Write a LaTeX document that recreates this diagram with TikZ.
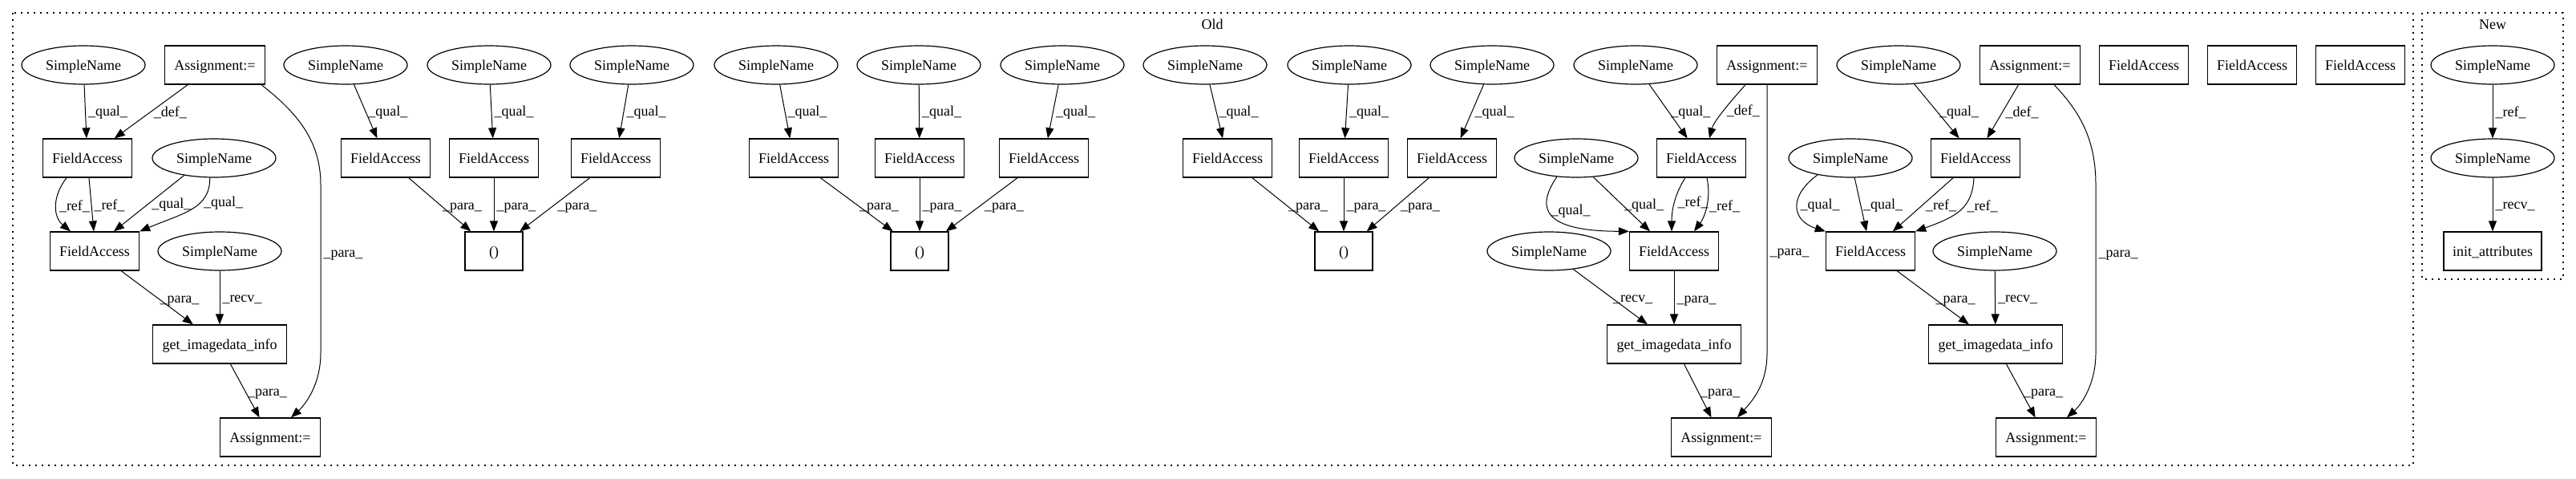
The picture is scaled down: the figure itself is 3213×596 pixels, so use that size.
\documentclass[tikz,border=0pt]{standalone}
\usepackage{fontspec}
\setmainfont{Liberation Serif}
\usetikzlibrary{arrows.meta,shapes.geometric,calc}
\begin{document}
\begin{tikzpicture}[x=0.5pt,y=-0.5pt,
  every node/.style={font=\fontsize{9pt}{10pt}\selectfont, text height=7.5pt, text depth=1.5pt},
  sn/.style={draw, ellipse, line width=0.6pt, minimum width=77pt, minimum height=24pt, inner sep=0pt},
  bx/.style={draw, rectangle, line width=0.65pt, minimum height=24pt, inner sep=0pt},
  fa/.style={bx, minimum width=55.5pt},
  asg/.style={bx, minimum width=62.5pt},
  gi/.style={bx, minimum width=83.5pt},
  pr/.style={bx, minimum width=36pt},
  ia/.style={bx, minimum width=61pt},
  edge/.style={draw, line width=0.5pt, -{Triangle[length=6.5pt,width=5pt]}},
  lbl/.style={anchor=west, inner sep=1.5pt},
  clus/.style={draw, line width=0.7pt, dash pattern=on 0.8pt off 3.2pt},
]
\useasboundingbox (0,0) rectangle (3213,596);
\fill[white] (0,0) rectangle (3213,596);

% clusters
\draw[clus] (16,16) rectangle (3010,580);
\draw[clus] (3021,16) rectangle (3197,348);
\node (oldlbl) at (1512,30) {Old};
\node (newlbl) at (3109,30) {New};

% group 1
\node[sn]  (sA1) at (104,81)  {SimpleName};
\node[asg] (aT1) at (268,81)  {Assignment:=};
\node[fa]  (fA1) at (109,197) {FieldAccess};
\node[sn]  (sB1) at (267,197) {SimpleName};
\node[fa]  (fB1) at (118,313) {FieldAccess};
\node[sn]  (sC1) at (274,313) {SimpleName};
\node[gi]  (g1)  at (274,429) {get\_imagedata\_info};
\node[asg] (aB1) at (337,545) {Assignment:=};

% group 2
\node[sn] (s21) at (431,81) {SimpleName};
\node[sn] (s22) at (610,81) {SimpleName};
\node[sn] (s23) at (788,81) {SimpleName};
\node[fa] (f21) at (481,197) {FieldAccess};
\node[fa] (f22) at (616,197) {FieldAccess};
\node[fa] (f23) at (768,197) {FieldAccess};
\node[pr] (p2)  at (616,313) {()};

% group 3
\node[sn] (s31) at (968,81) {SimpleName};
\node[sn] (s32) at (1146,81) {SimpleName};
\node[sn] (s33) at (1325,81) {SimpleName};
\node[fa] (f31) at (990,197) {FieldAccess};
\node[fa] (f32) at (1147,197) {FieldAccess};
\node[fa] (f33) at (1302,197) {FieldAccess};
\node[pr] (p3)  at (1147,313) {()};

% group 4
\node[sn] (s41) at (1503,81) {SimpleName};
\node[sn] (s42) at (1683,81) {SimpleName};
\node[sn] (s43) at (1861,81) {SimpleName};
\node[fa] (f41) at (1531,197) {FieldAccess};
\node[fa] (f42) at (1676,197) {FieldAccess};
\node[fa] (f43) at (1811,197) {FieldAccess};
\node[pr] (p4)  at (1676,313) {()};

% group 5
\node[sn]  (s5a) at (2040,81)  {SimpleName};
\node[asg] (aT5) at (2204,81)  {Assignment:=};
\node[fa]  (f5a) at (2122,197) {FieldAccess};
\node[sn]  (s5b) at (1966,197) {SimpleName};
\node[fa]  (f5b) at (2088,313) {FieldAccess};
\node[sn]  (s5c) at (1932,313) {SimpleName};
\node[gi]  (g5)  at (2088,429) {get\_imagedata\_info};
\node[asg] (aB5) at (2147,545) {Assignment:=};

% group 6
\node[sn]  (s6a) at (2368,81)  {SimpleName};
\node[asg] (aT6) at (2532,81)  {Assignment:=};
\node[fa]  (f6a) at (2464,197) {FieldAccess};
\node[sn]  (s6b) at (2308,197) {SimpleName};
\node[fa]  (f6b) at (2333,313) {FieldAccess};
\node[sn]  (s6c) at (2488,313) {SimpleName};
\node[gi]  (g6)  at (2489,429) {get\_imagedata\_info};
\node[asg] (aB6) at (2552,545) {Assignment:=};

% isolated
\node[fa] (fx1) at (2674,81) {FieldAccess};
\node[fa] (fx2) at (2809,81) {FieldAccess};
\node[fa] (fx3) at (2944,81) {FieldAccess};

% new
\node[sn] (n1) at (3109,81)  {SimpleName};
\node[sn] (n2) at (3109,197) {SimpleName};
\node[ia] (n3) at (3109,313) {init\_attributes};

% ---- edges group 1
\draw[edge] (sA1) -- node[lbl]{\_qual\_} (fA1);
\draw[edge] (aT1) -- node[lbl]{\_def\_} (fA1);
\draw[edge] ($(aT1.south)+(58,0)$) .. controls (370,140) and (400,175) .. (400,230)
   -- node[lbl,pos=0.4]{\_para\_} (400,440) .. controls (400,480) and (380,505) .. ($(aB1.north)+(26,0)$);
\draw[edge] ($(fA1.south)+(-26,0)$) .. controls (65,245) and (66,270) .. node[lbl]{\_ref\_} ($(fB1.north)+(-30,0)$);
\draw[edge] ($(fA1.south)+(2,0)$) -- node[lbl]{\_ref\_} ($(fB1.north)+(-1,0)$);
\draw[edge] (sB1.210) -- node[lbl]{\_qual\_} ($(fB1.north)+(24,0)$);
\draw[edge] (sB1.258) .. controls (262,260) and (230,265) .. node[lbl,pos=0.35]{\_qual\_} (fB1.north east);
\draw[edge] (fB1) -- node[lbl]{\_para\_} (g1);
\draw[edge] (sC1) -- node[lbl]{\_recv\_} (g1);
\draw[edge] (g1) -- node[lbl]{\_para\_} (aB1);

% ---- edges groups 2-4
\foreach \g in {2,3,4}{
  \foreach \i in {1,2,3}{
    \draw[edge] (s\g\i) -- node[lbl]{\_qual\_} (f\g\i);
    \draw[edge] (f\g\i) -- node[lbl]{\_para\_} (p\g);
  }
}

% ---- edges group 5
\draw[edge] (s5a) -- node[lbl]{\_qual\_} (f5a);
\draw[edge] ($(aT5.south)+(-27,0)$) .. controls (2160,125) and (2138,150) .. node[lbl]{\_def\_} ($(f5a.north)+(10,0)$);
\draw[edge] (aT5.south) -- node[lbl,pos=0.62]{\_para\_} (2204,440) .. controls (2204,480) and (2185,500) .. ($(aB5.north)+(20,0)$);
\draw[edge] (s5b.312) -- node[lbl]{\_qual\_} ($(f5b.north)+(-30,0)$);
\draw[edge] (s5b.224) .. controls (1915,260) and (1925,288) .. node[lbl,pos=0.4]{\_qual\_} (f5b.north west);
\draw[edge] ($(f5a.south)+(-20,0)$) .. controls (2090,240) and (2085,260) .. node[lbl]{\_ref\_} ($(f5b.north)+(-3,0)$);
\draw[edge] ($(f5a.south)+(7,0)$) .. controls (2134,245) and (2128,268) .. node[lbl]{\_ref\_} ($(f5b.north)+(25,0)$);
\draw[edge] (s5c) -- node[lbl]{\_recv\_} (g5);
\draw[edge] (f5b) -- node[lbl]{\_para\_} (g5);
\draw[edge] (g5) -- node[lbl]{\_para\_} (aB5);

% ---- edges group 6
\draw[edge] (s6a) -- node[lbl]{\_qual\_} (f6a);
\draw[edge] (aT6) -- node[lbl]{\_def\_} (f6a);
\draw[edge] ($(aT6.south)+(30,0)$) .. controls (2595,140) and (2614,175) .. (2614,230)
   -- node[lbl,pos=0.4]{\_para\_} (2614,440) .. controls (2614,480) and (2595,505) .. ($(aB6.north)+(26,0)$);
\draw[edge] (s6b.282) -- node[lbl]{\_qual\_} ($(f6b.north)+(-5,0)$);
\draw[edge] (s6b.207) .. controls (2230,245) and (2235,275) .. node[lbl,pos=0.45]{\_qual\_} (f6b.north west);
\draw[edge] (f6a) -- node[lbl]{\_ref\_} (f6b);
\draw[edge] ($(f6a.south)+(-2,0)$) .. controls (2460,260) and (2440,270) .. node[lbl,pos=0.4]{\_ref\_} (f6b.north east);
\draw[edge] (s6c) -- node[lbl]{\_recv\_} (g6);
\draw[edge] (f6b) -- node[lbl]{\_para\_} (g6);
\draw[edge] (g6) -- node[lbl]{\_para\_} (aB6);

% ---- new
\draw[edge] (n1) -- node[lbl]{\_ref\_} (n2);
\draw[edge] (n2) -- node[lbl]{\_recv\_} (n3);
\end{tikzpicture}
\end{document}
